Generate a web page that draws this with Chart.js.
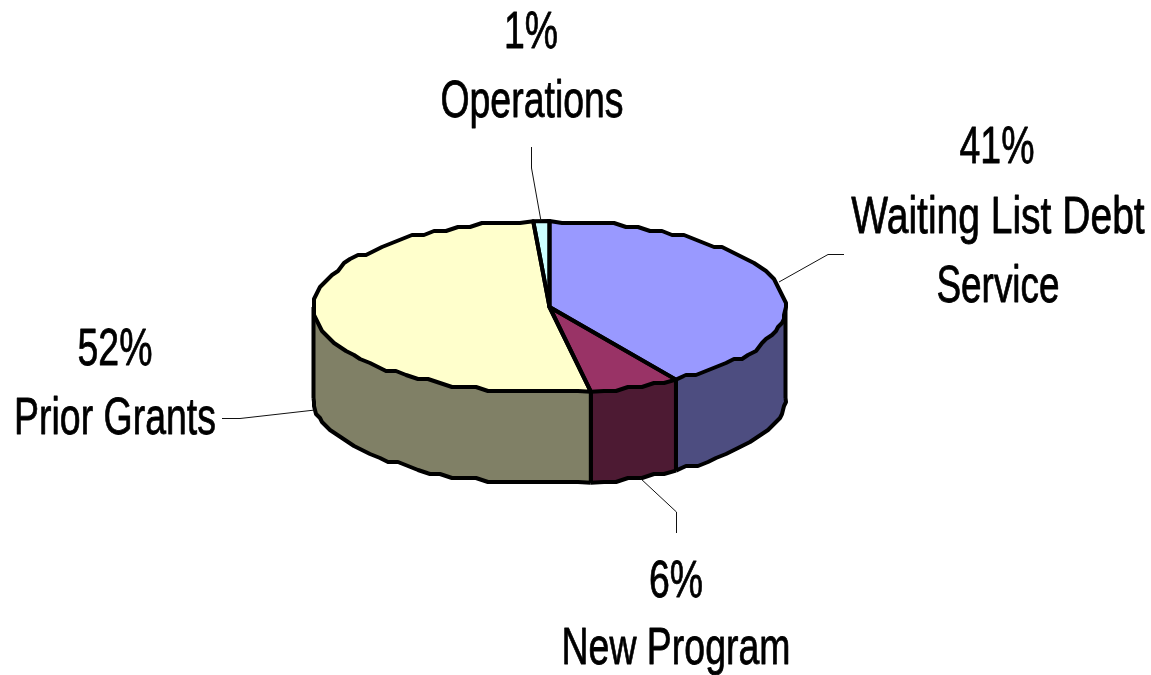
<!DOCTYPE html>
<html><head><meta charset="utf-8">
<style>html,body{margin:0;padding:0;background:#fff}#w{width:1151px;height:675px}canvas{display:block}</style>
<script src="https://cdn.jsdelivr.net/npm/chart.js@4"></script></head>
<body><div id="w"><canvas id="c" width="1151" height="675"></canvas></div>
<script>
const categories = ['Waiting List Debt Service', 'New Program', 'Prior Grants', 'Operations'];
const values = [41, 6.2, 51.7, 1.1];
const topColors = ['#9999FF', '#993366', '#FFFFCC', '#CCFFFF'];
const sideColors = ['#4D4D80', '#4D1A33', '#808066', '#668080'];

const RX = 236, RY = 86, DEPTH = 91;
const FONT = '52px "Liberation Sans", Arial, sans-serif';
const labelLayout = [
  {lines: ['41%', 'Waiting List Debt', 'Service'], x: [997, 998, 998], y: [163, 233, 302], xs: [0.72, 0.75, 0.71]},
  {lines: ['6%', 'New Program'], x: [676, 676], y: [597, 664], xs: [0.72, 0.72]},
  {lines: ['52%', 'Prior Grants'], x: [115, 115], y: [365, 434], xs: [0.72, 0.72]},
  {lines: ['1%', 'Operations'], x: [531, 532], y: [48, 117], xs: [0.72, 0.72]}
];
const leaders = [
  [[844,254.5],[828,254.5],[779,282]],
  [[640,478],[676.5,512],[676.5,533]],
  [[222,418.5],[240,418.5],[315,410]],
  [[531.5,147],[531.5,168],[541,221]]
];

// Outline of an elliptical arc, snapped to a coarse grid for the stair-stepped edge of the original.
const GRID_X = 2, GRID_Y = 4, STEP = 0.055;
function jagged(ctx, cx, cy, s, e, first) {
  const n = Math.max(1, Math.round((e - s) / STEP));
  for (let k = 0; k <= n; k++) {
    const t = s + (e - s) * k / n;
    let x = cx + RX * Math.cos(t), y = cy + RY * Math.sin(t);
    if (k > 0 && k < n) {
      x = Math.round(x / GRID_X) * GRID_X;
      y = Math.round((y - cy) / GRID_Y) * GRID_Y + cy;
    }
    if (k === 0 && first) ctx.moveTo(x, y); else ctx.lineTo(x, y);
  }
}

const flatPie = {
  id: 'flatPie',
  beforeDatasetsDraw(chart) {
    const ctx = chart.ctx, arcs = chart.getDatasetMeta(0).data;
    const cx = arcs[0].x, cy = arcs[0].y;
    ctx.save();
    ctx.lineJoin = 'round';
    arcs.forEach((a, i) => {
      const s = Math.max(a.startAngle, 0), e = Math.min(a.endAngle, Math.PI);
      if (e <= s) return;
      ctx.beginPath();
      ctx.ellipse(cx, cy, RX, RY, 0, s, e);
      ctx.ellipse(cx, cy + DEPTH, RX, RY, 0, e, s, true);
      ctx.closePath();
      ctx.fillStyle = sideColors[i];
      ctx.fill();
      ctx.beginPath();
      jagged(ctx, cx, cy + DEPTH, s, e, true);
      ctx.moveTo(cx + RX * Math.cos(s), cy + RY * Math.sin(s));
      ctx.lineTo(cx + RX * Math.cos(s), cy + DEPTH + RY * Math.sin(s));
      ctx.moveTo(cx + RX * Math.cos(e), cy + RY * Math.sin(e));
      ctx.lineTo(cx + RX * Math.cos(e), cy + DEPTH + RY * Math.sin(e));
      ctx.lineWidth = 4; ctx.strokeStyle = '#000';
      ctx.stroke();
    });
    ctx.restore();
    ctx.save();
    ctx.translate(cx, cy); ctx.scale(1, RY / RX); ctx.translate(-cx, -cy);
  },
  afterDatasetsDraw(chart) {
    const ctx = chart.ctx, arcs = chart.getDatasetMeta(0).data;
    ctx.restore();
    const cx = arcs[0].x, cy = arcs[0].y;
    ctx.save();
    ctx.strokeStyle = '#000'; ctx.lineJoin = 'round';
    arcs.forEach(a => {
      ctx.lineWidth = 4;
      ctx.beginPath();
      ctx.moveTo(cx, cy);
      jagged(ctx, cx, cy, a.startAngle, a.endAngle, false);
      ctx.closePath();
      ctx.stroke();
    });
    ctx.lineWidth = 1; ctx.strokeStyle = '#111';
    leaders.forEach(p => {
      ctx.beginPath();
      p.forEach((q, i) => i ? ctx.lineTo(q[0], q[1]) : ctx.moveTo(q[0], q[1]));
      ctx.stroke();
    });
    ctx.fillStyle = '#000'; ctx.strokeStyle = '#000'; ctx.lineWidth = 0.8;
    ctx.font = FONT; ctx.textAlign = 'center'; ctx.textBaseline = 'alphabetic';
    labelLayout.forEach(l => l.lines.forEach((t, i) => {
      ctx.save();
      ctx.translate(l.x[i], l.y[i]); ctx.scale(l.xs[i], 1);
      ctx.fillText(t, 0, 0);
      ctx.strokeText(t, 0, 0);
      ctx.restore();
    }));
    ctx.restore();
  }
};

new Chart(document.getElementById('c'), {
  type: 'pie',
  data: {labels: categories, datasets: [{data: values, backgroundColor: topColors, borderWidth: 0}]},
  options: {
    responsive: false, animation: false, radius: RX, rotation: 0,
    layout: {padding: {left: 0, right: 52, top: 0, bottom: 61}},
    plugins: {legend: {display: false}, tooltip: {enabled: false}, title: {display: false}}
  },
  plugins: [flatPie]
});
</script></body></html>
